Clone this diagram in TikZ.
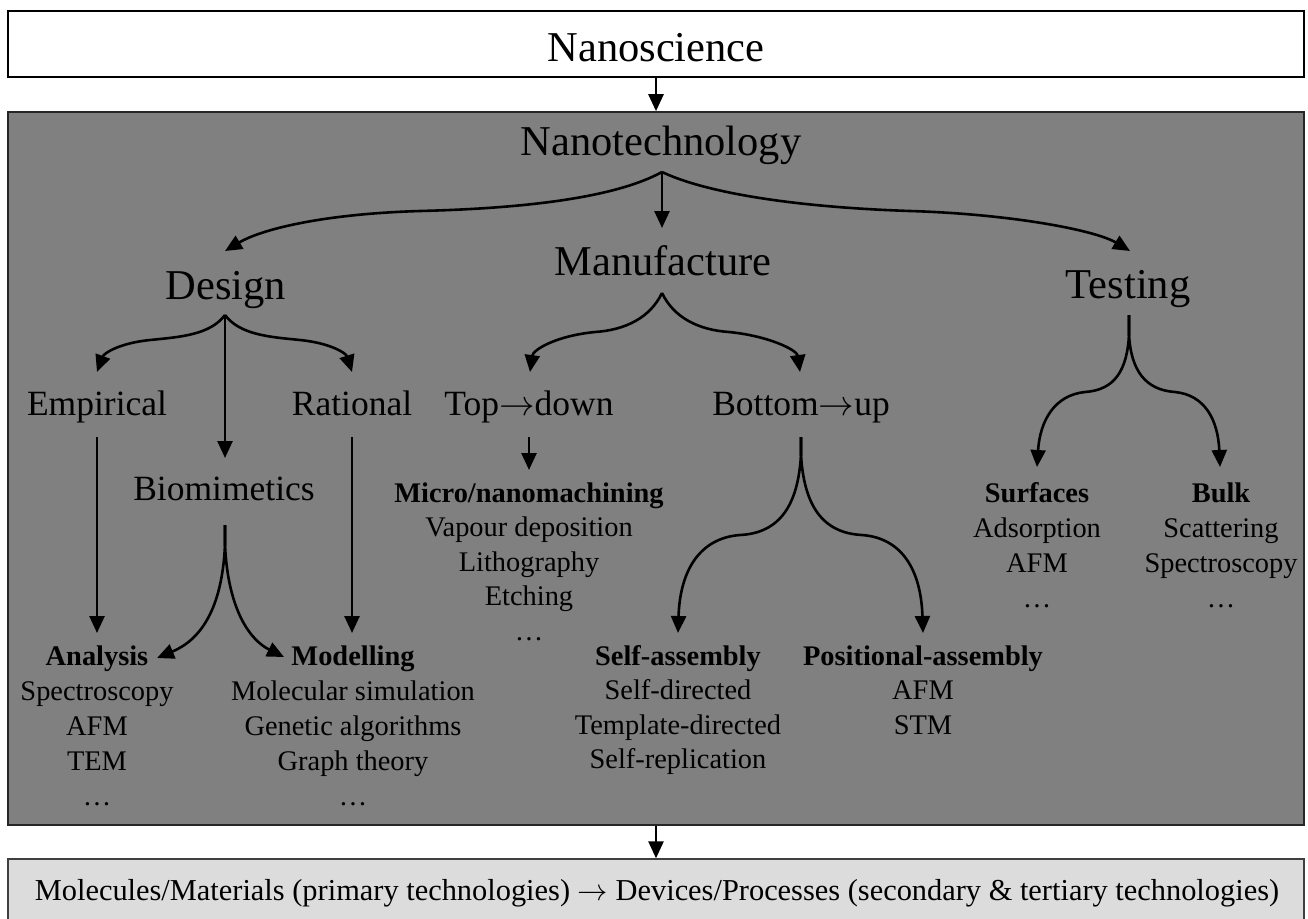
\RequirePackage{fix-cm}
\documentclass[tikz,border=0pt]{standalone}
\usepackage{fontspec}
\setmainfont{Liberation Serif}
\usepackage{xcolor}
\usepackage{tikz}
\usetikzlibrary{arrows.meta}
\definecolor{techgray}{HTML}{808080}
\definecolor{outgray}{HTML}{DCDCDC}

\tikzset{
  big/.style={anchor=base,inner sep=0pt,font=\fontsize{42.5}{50}\selectfont},
  mid/.style={anchor=base,inner sep=0pt,font=\fontsize{35.5}{42}\selectfont},
  small/.style={anchor=base,inner sep=0pt,font=\fontsize{28.4}{34}\selectfont},
  frame/.style={minimum width=1296pt,inner sep=0pt},
  link/.style={line width=2.6pt,-{Triangle[length=17pt,width=15pt]}}
}

\begin{document}
\begin{tikzpicture}[x=1pt,y=-1pt]
\clip (0,0) rectangle (1308,918);

      \node[frame,draw=black,line width=2.8pt,fill=white,minimum height=66pt] (scibox) at (656,44) {};
      \node[frame,draw=black!85,line width=1.6pt,fill=techgray,minimum height=713pt] (techbox) at (656,468.5) {};
      \node[frame,draw=black!75,line width=1.4pt,fill=outgray,minimum height=80pt] (outbox) at (656,899) {};
   \draw[link] (scibox.south) -- (techbox.north);
   \draw[link] (techbox.south) -- (outbox.north);

\node[big] (sci) at (656,61) {Nanoscience};
\node[big] (tech) at (661,155) {Nanotechnology};
\node[big] (design) at (226,299) {Design};
\node[big] (manu) at (663,275) {Manufacture};
\node[big] (test) at (1128,298) {Testing};
\node[mid] (emp) at (97,415) {Empirical};
\node[mid] (bio) at (224,500) {Biomimetics};
\node[mid] (rat) at (352,415) {Rational};
\node[mid] (topdown) at (529,415) {Top$\rightarrow$down};
\node[mid] (botup) at (801,415) {Bottom$\rightarrow$up};
\node[small,font=\fontsize{30.4}{36}\selectfont] (out) at (657,900) {Molecules/Materials (primary technologies) $\rightarrow$ Devices/Processes (secondary \& tertiary technologies)};

%% lists under the arrows
\foreach \t [count=\i from 0] in {\textbf{Analysis},Spectroscopy,AFM,TEM,\ldots}
    \node[small] (ana-\i) at (97,665+35*\i) {\t};
\foreach \t [count=\i from 0] in {\textbf{Modelling},Molecular simulation,Genetic algorithms,Graph theory,\ldots}
    \node[small] (mod-\i) at (353,665+35*\i) {\t};
\foreach \t [count=\i from 0] in {\textbf{Micro/nanomachining},Vapour deposition,Lithography,Etching,\ldots}
    \node[small] (micro-\i) at (529,502+34.5*\i) {\t};
\foreach \t [count=\i from 0] in {\textbf{Self-assembly},Self-directed,Template-directed,Self-replication}
    \node[small] (self-\i) at (678,665+34.5*\i) {\t};
\foreach \t [count=\i from 0] in {\textbf{Positional-assembly},AFM,STM}
    \node[small] (pos-\i) at (923,665+34.5*\i) {\t};
\foreach \t [count=\i from 0] in {\textbf{Surfaces},Adsorption,AFM,\ldots}
    \node[small] (surf-\i) at (1037,502+35*\i) {\t};
\foreach \t [count=\i from 0] in {\textbf{Bulk},Scattering,Spectroscopy,\ldots}
    \node[small] (bulk-\i) at (1221,502+35*\i) {\t};

%% fork and tip points
\coordinate (tech-fork) at (662,172);
\coordinate (design-in) at (225,251);
\coordinate (manu-in) at (662,228);
\coordinate (test-in) at (1130,251);
\coordinate (design-fork) at (225,315);
\coordinate (emp-in) at (97,372);
\coordinate (bio-in) at (225,458);
\coordinate (rat-in) at (352,372);
\coordinate (emp-out) at (97,437);
\coordinate (rat-out) at (352,437);
\coordinate (ana-in) at (97,633);
\coordinate (mod-in) at (352,633);
\coordinate (bio-fork) at (225,525);
\coordinate (bio-ana) at (157,658);
\coordinate (bio-mod) at (284,657);
\coordinate (manu-fork) at (662,293);
\coordinate (topdown-in) at (530,372);
\coordinate (botup-in) at (800,372);
\coordinate (topdown-out) at (529,437);
\coordinate (micro-in) at (529,470);
\coordinate (botup-fork) at (801,437);
\coordinate (self-in) at (678,633);
\coordinate (pos-in) at (923,633);
\coordinate (test-fork) at (1129,315);
\coordinate (surf-in) at (1037,467);
\coordinate (bulk-in) at (1220,467);

%% Nanotechnology
\draw[link] (tech-fork) .. controls (620,195) and (540,208) .. (420,211) .. controls (320,214) and (260,230) .. (design-in);
\draw[link] (tech-fork) -- (manu-in);
\draw[link] (tech-fork) .. controls (704,192) and (790,207) .. (910,211) .. controls (1010,214) and (1095,230) .. (test-in);
%% Design
\draw[link] (design-fork) .. controls (210,335) and (180,337) .. (150,340) .. controls (120,343) and (104,353) .. (emp-in);
\draw[link] (design-fork) -- (bio-in);
\draw[link] (design-fork) .. controls (240,335) and (270,337) .. (300,340) .. controls (330,343) and (346,353) .. (rat-in);
\draw[link] (emp-out) -- (ana-in);
\draw[link] (rat-out) -- (mod-in);
\draw[link] (bio-fork) -- (225,545) .. controls (222,610) and (200,640) .. (bio-ana);
\draw[link] (bio-fork) -- (225,545) .. controls (228,610) and (250,640) .. (bio-mod);
%% Manufacture
\draw[link] (manu-fork) .. controls (650,318) and (625,330) .. (595,332) .. controls (555,336) and (533,350) .. (topdown-in);
\draw[link] (manu-fork) .. controls (674,318) and (699,330) .. (729,332) .. controls (769,336) and (797,350) .. (botup-in);
\draw[link] (topdown-out) -- (micro-in);
\draw[link] (botup-fork) -- (801,455) .. controls (798,505) and (780,533) .. (740,535) .. controls (700,538) and (680,570) .. (self-in);
\draw[link] (botup-fork) -- (801,455) .. controls (804,505) and (822,533) .. (862,535) .. controls (902,538) and (921,570) .. (pos-in);
%% Testing
\draw[link] (test-fork) -- (1129,335) .. controls (1127,370) and (1115,390) .. (1085,392) .. controls (1055,395) and (1040,420) .. (surf-in);
\draw[link] (test-fork) -- (1129,335) .. controls (1131,370) and (1145,390) .. (1175,392) .. controls (1205,395) and (1218,420) .. (bulk-in);
\end{tikzpicture}
\end{document}
